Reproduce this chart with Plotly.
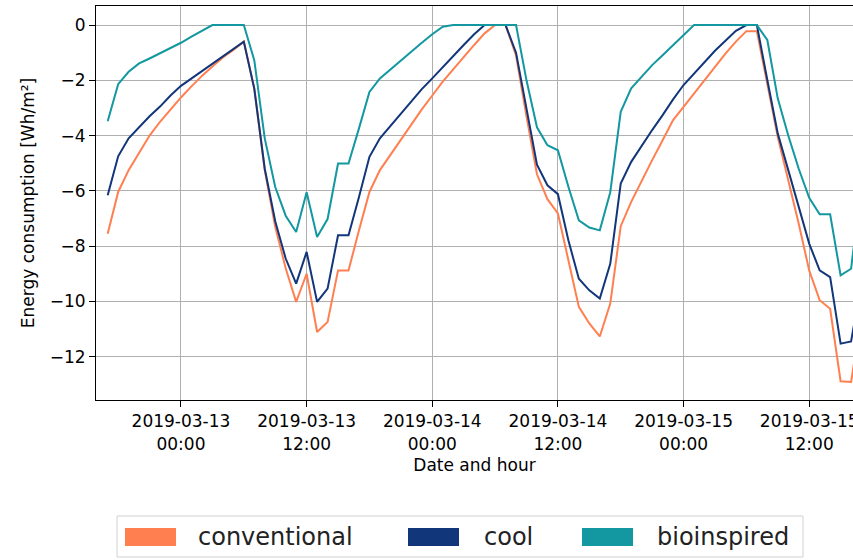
import pandas as pd
import plotly.graph_objects as go

start_time = "2019-03-12 17:00"

conventional = [
    -7.55, -6.04, -5.25, -4.60, -4.00, -3.50, -3.05, -2.62, -2.22, -1.84,
    -1.50, -1.17, -0.90, -0.60, -2.30, -5.25, -7.30, -8.80, -10.02, -9.00,
    -11.11, -10.75, -8.88, -8.88, -7.43, -6.04, -5.25, -4.70, -4.15, -3.60,
    -3.05, -2.55, -2.05, -1.60, -1.15, -0.72, -0.30, 0.00, 0.00, -1.10,
    -3.30, -5.40, -6.30, -6.82, -8.51, -10.20, -10.80, -11.27, -10.08, -7.28,
    -6.40, -5.62, -4.89, -4.17, -3.44, -2.96, -2.48, -1.99, -1.51, -1.03,
    -0.60, -0.22, -0.22, -2.10, -4.05, -5.62, -7.19, -8.88, -9.96, -10.27,
    -12.89, -12.92, -10.50,
]
cool = [
    -6.16, -4.75, -4.10, -3.68, -3.30, -2.95, -2.55, -2.20, -1.93, -1.66,
    -1.40, -1.13, -0.85, -0.60, -2.30, -5.20, -7.10, -8.45, -9.36, -8.21,
    -10.02, -9.54, -7.61, -7.61, -6.22, -4.77, -4.10, -3.65, -3.20, -2.75,
    -2.32, -1.93, -1.52, -1.12, -0.72, -0.33, 0.00, 0.00, 0.00, -1.00,
    -3.00, -5.05, -5.80, -6.12, -7.79, -9.18, -9.60, -9.90, -8.64, -5.74,
    -4.95, -4.35, -3.80, -3.26, -2.69, -2.17, -1.75, -1.33, -0.93, -0.57,
    -0.21, 0.00, 0.00, -1.99, -3.93, -5.25, -6.58, -7.91, -8.88, -9.12,
    -11.53, -11.45, -9.30,
]
bioinspired = [
    -3.48, -2.14, -1.69, -1.39, -1.21, -1.03, -0.85, -0.64, -0.42, -0.21,
    0.00, 0.00, 0.00, 0.00, -1.27, -4.10, -5.86, -6.90, -7.49, -6.05,
    -7.67, -7.02, -5.01, -5.01, -3.74, -2.42, -1.93, -1.60, -1.28, -0.97,
    -0.64, -0.33, -0.06, 0.00, 0.00, 0.00, 0.00, 0.00, 0.00, 0.00,
    -2.00, -3.70, -4.35, -4.53, -5.85, -7.07, -7.33, -7.43, -6.05, -3.14,
    -2.29, -1.85, -1.45, -1.09, -0.72, -0.35, 0.00, 0.00, 0.00, 0.00,
    0.00, 0.00, 0.00, -0.54, -2.66, -4.00, -5.20, -6.25, -6.85, -6.85,
    -9.06, -8.82, -5.70,
]

series_names = ["conventional", "cool", "bioinspired"]
series_colors = ["#FF7F50", "#12367A", "#1397A0"]

x_tick_values = ["2019-03-13 00:00", "2019-03-13 12:00", "2019-03-14 00:00",
                 "2019-03-14 12:00", "2019-03-15 00:00", "2019-03-15 12:00"]
x_tick_labels = ["2019-03-13<br>00:00", "2019-03-13<br>12:00", "2019-03-14<br>00:00",
                 "2019-03-14<br>12:00", "2019-03-15<br>00:00", "2019-03-15<br>12:00"]
y_tick_values = [0, -2, -4, -6, -8, -10, -12]

times = pd.date_range(start_time, periods=len(conventional), freq="h")
FONT = "DejaVu Sans"

W, H = 853, 560
ML, MR, MT, MB = 96, 0, 6, 160
PW, PH = W - ML - MR, H - MT - MB


def px_to_paper_x(px):
    return (px - ML) / PW


def px_to_paper_y(py):
    return (H - MB - py) / PH


fig = go.Figure()
for name, vals, col in zip(series_names, [conventional, cool, bioinspired], series_colors):
    fig.add_trace(go.Scatter(x=times, y=vals, mode="lines", name=name,
                             line=dict(color=col, width=2), showlegend=False))

axis_common = dict(showgrid=True, gridcolor="#b0b0b0", gridwidth=1,
                   showline=True, linecolor="black", linewidth=1, mirror=True,
                   ticks="outside", ticklen=6, tickcolor="black", zeroline=False,
                   automargin=False,
                   tickfont=dict(family=FONT, size=17, color="black"))

# legend drawn as a framed box with colour patches and labels (matplotlib style)
shapes = [dict(type="rect", xref="paper", yref="paper",
               x0=px_to_paper_x(117), x1=px_to_paper_x(803),
               y0=px_to_paper_y(557), y1=px_to_paper_y(516),
               line=dict(color="#d0d0d0", width=1), fillcolor="white", layer="above")]
annotations = []
patch_left = [125, 408, 582]
text_left = [196, 482, 655]
for name, col, pl, tl in zip(series_names, series_colors, patch_left, text_left):
    shapes.append(dict(type="rect", xref="paper", yref="paper",
                       x0=px_to_paper_x(pl), x1=px_to_paper_x(pl + 51),
                       y0=px_to_paper_y(546), y1=px_to_paper_y(528),
                       line=dict(width=0), fillcolor=col, layer="above"))
    annotations.append(dict(text=name, xref="paper", yref="paper",
                            x=px_to_paper_x(tl), y=px_to_paper_y(537),
                            xanchor="left", yanchor="middle", showarrow=False,
                            font=dict(family=FONT, size=24, color="#222222")))

fig.update_layout(
    width=W, height=H,
    margin=dict(l=ML, r=MR, t=MT, b=MB, autoexpand=False),
    paper_bgcolor="white", plot_bgcolor="white",
    font=dict(family=FONT, color="black"),
    showlegend=False,
    xaxis=dict(type="date", range=["2019-03-12 15:53", "2019-03-15 16:11"],
               tickvals=x_tick_values, ticktext=x_tick_labels, ticklabeloverflow="allow",
               title=dict(text="Date and hour", font=dict(family=FONT, size=17), standoff=6),
               **axis_common),
    yaxis=dict(range=[-13.57, 0.69], tickvals=y_tick_values,
               title=dict(text="Energy consumption [Wh/m²]", font=dict(family=FONT, size=17), standoff=10),
               **axis_common),
    shapes=shapes,
    annotations=annotations,
)

fig.write_html("out.html")
